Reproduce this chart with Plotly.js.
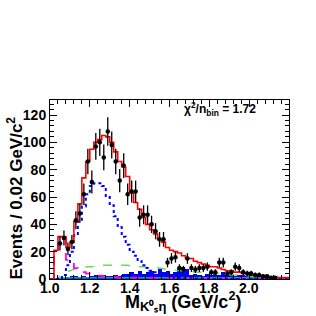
<!DOCTYPE html>
<html><head><meta charset="utf-8">
<script src="https://cdn.plot.ly/plotly-3.0.1.min.js"></script>
<style>html,body{margin:0;padding:0;background:#fff}</style>
</head><body><div id="plot" style="width:316px;height:316px"></div>
<script>
// bin centers: 0.02 GeV bins from 1.00 to 2.20
var binStart = 1.01, binWidth = 0.02, nBins = 60;
var mass = [];
for (var i = 0; i < nBins; i++) mass.push(+(binStart + i * binWidth).toFixed(3));

var dataY = [null,null,26,30,22,27,43,48,62,86,71,97,100,89,108,98,86,72,83,62,64,64,45,47,47,40,35,29,29,12,15,16,8,7,15,8,7,8,8,9,5,5,12,12,4,5,9,8,5,4,4,3,3,2,2,1,1,null,null,null];
var dataErr = [0,0,5.1,5.5,4.7,5.2,6.6,6.9,7.9,9.3,8.4,9.8,10,9.4,10.4,9.9,9.3,8.5,9.1,7.9,8,8,6.7,6.9,6.9,6.3,5.9,5.4,5.4,3.5,3.9,4,2.8,2.6,3.9,2.8,2.6,2.8,2.8,3,2.2,2.2,3.5,3.5,2,2.2,3,2.8,2.2,2,2,1.7,1.7,1.4,1.4,1,1,0,0,0];
var totalFit = [0,21,31,31,23,27,42,55,74,86,95,100,102,105,104,100,93,86,82,75,63,56,51,45,40,36,33,29,27,23,21,20,19,17,15,15,13,12,11,10,9,9,8,7,6,6,5,5,4,4,3,3,2.5,2,2,1.5,1.5,1,1,1];
var compBlue = [0,0,0,3,10,20,32,42,53,62,68,70,70,68,60,54,46,38,31,25,20,17,13,10,8,6,5,4,3,2,2,1,1,0.5,0.5,0.5,0.3,0.3,0.2,0.2,0.2,0.1,0.1,0.1,0.1,0.1,0,0,0,0,0,0,0,0,0,0,0,0,0,0];
var compMagenta = [0,20,30,30,14,11,8,6,5,4,3.5,3,2.5,2,2,1.5,1.5,1,1,1,1,1,1,1,1,0.8,0.8,0.8,0.7,0.7,0.6,0.6,0.6,0.5,0.5,0.5,0.5,0.5,0.5,0.5,0.5,0.4,0.4,0.4,0.4,0.4,0.4,0.4,0.3,0.3,0.3,0.3,0.3,0.3,0.3,0.3,0.2,0.2,0.2,0.2];
var compGreen = [0,0,2,4,5.5,6.5,7.5,8,8.5,9,9,9.5,9.5,10,10,10,10,10,10,10,9.5,9.5,9,9,8.5,8.5,8,8,7.5,7,7,6.5,6,6,5.5,5.5,5,5,4.5,4.5,4,4,4,3.5,3.5,3,3,3,2.5,2.5,2,2,2,1.5,1.5,1.5,1,1,1,1];
var compCyan = [0,0,0.5,0.8,1,1,1,1,1,1,1,1,1,1,1,1,1,1,1,1,1,1,1,1,1,1,1,1,1,1,1,1,1,1,1,1,1,1,1,1,1,1,1,1,1,1,1,1,1,1,1,1,1,1,1,1,1,1,1,1];
var bkgFill = [0,1,1,0.5,1,2,2,1,2,1,2,3,2,3,2,2,3,2,4,4,5,4,6,4,5,6,4,7,5,6,4,5,8,9,7,3,4,3,2,4,3,4,3,5,3,4,2,3,3,2,3,2,1,2,1,1,1,0.5,0.5,0.5];

var xTickVals = [1.0,1.2,1.4,1.6,1.8,2.0];
var yTickVals = [0,20,40,60,80,100,120];

// step outline for histograms (edges)
function edges(arr){ var xs=[], ys=[]; for (var i=0;i<mass.length;i++){ xs.push(mass[i]-binWidth/2); ys.push(arr[i]); } xs.push(mass[mass.length-1]+binWidth/2); ys.push(arr[arr.length-1]); return {x:xs,y:ys}; }

var eBlue = edges(compBlue), eMag = edges(compMagenta), eCyan = edges(compCyan), eRed = edges(totalFit);

var traces = [
 {type:'bar', x:mass, y:bkgFill, width:binWidth, marker:{color:'#0000ff', line:{width:0}}, hoverinfo:'skip'},
 {type:'scatter', mode:'lines', x:mass, y:compGreen, line:{color:'#66dd55', width:1.5, dash:'dash', shape:'spline'}},
 {type:'scatter', mode:'lines', x:eCyan.x, y:eCyan.y, line:{color:'#00aaaa', width:1.5, shape:'hv'}},
 {type:'scatter', mode:'lines', x:eMag.x, y:eMag.y, line:{color:'#ff00ff', width:1.8, dash:'dash', shape:'hv'}},
 {type:'scatter', mode:'lines', x:eBlue.x, y:eBlue.y, line:{color:'#0000ff', width:2, dash:'dot', shape:'hv'}},
 {type:'scatter', mode:'lines', x:eRed.x, y:eRed.y, line:{color:'#ff0000', width:1.6, shape:'hv'}},
 {type:'scatter', mode:'markers', x:mass, y:dataY, marker:{color:'#000', size:4.5},
  error_y:{type:'data', array:dataErr, visible:true, color:'#000', thickness:1.3, width:0},
  error_x:{type:'constant', value:0.006, visible:true, color:'#000', thickness:1, width:0}}
];

var fam = 'Liberation Sans, Arial, sans-serif';
var tickFont = {family:fam, size:14, color:'#000', weight:'bold'};
var titleFont = {family:fam, size:17, color:'#000', weight:'bold'};

var annotations = [
  {xref:'paper', yref:'paper', x:0.71, y:0.95, xanchor:'center', yanchor:'middle', showarrow:false,
   text:'χ<sup>2</sup>/n<sub>bin</sub> = 1.72', font:{family:fam, size:12, color:'#000', weight:'bold'}},
  {xref:'paper', yref:'paper', x:0.555, y:-0.205, xanchor:'center', yanchor:'bottom', showarrow:false,
   text:'M<sub><span style="font-size:13px">K</span><span style="font-size:13px">⁰ₛ</span><span style="font-size:13px">η</span></sub> (GeV/c<sup>2</sup>)',
   font:{family:fam, size:18, color:'#000', weight:'bold'}},
  {xref:'paper', yref:'paper', x:-0.146, y:0.45, xanchor:'center', yanchor:'middle', showarrow:false, textangle:-90,
   text:'Events / 0.02 GeV/c<sup>2</sup>', font:titleFont}
];
// x tick labels placed with the x axis scale
xTickVals.forEach(function(v){
  annotations.push({xref:'x', yref:'paper', x:v, y:-0.052, xanchor:'center', yanchor:'middle', showarrow:false,
    text:v.toFixed(1), font:tickFont, borderpad:0});
});

var layout = {
 width:316, height:316,
 margin:{l:50, r:27, t:100, b:37},
 paper_bgcolor:'#fff', plot_bgcolor:'#fff',
 showlegend:false, bargap:0,
 xaxis:{range:[1.0,2.2], tickvals:xTickVals, showticklabels:false,
   ticks:'inside', ticklen:7, tickcolor:'#000', showline:true, linecolor:'#000', linewidth:1, mirror:'ticks',
   showgrid:false, zeroline:false,
   minor:{dtick:0.04, tick0:1.0, ticks:'inside', ticklen:4, tickcolor:'#000', showgrid:false},
   automargin:false},
 yaxis:{range:[0,131], tickvals:yTickVals,
   ticks:'inside', ticklen:7, tickcolor:'#000', showline:true, linecolor:'#000', linewidth:1, mirror:'ticks',
   showgrid:false, zeroline:false, tickfont:tickFont,
   minor:{dtick:4, tick0:0, ticks:'inside', ticklen:4, tickcolor:'#000', showgrid:false},
   automargin:false},
 annotations:annotations
};
Plotly.newPlot('plot', traces, layout, {staticPlot:true, displayModeBar:false});
</script></body></html>
